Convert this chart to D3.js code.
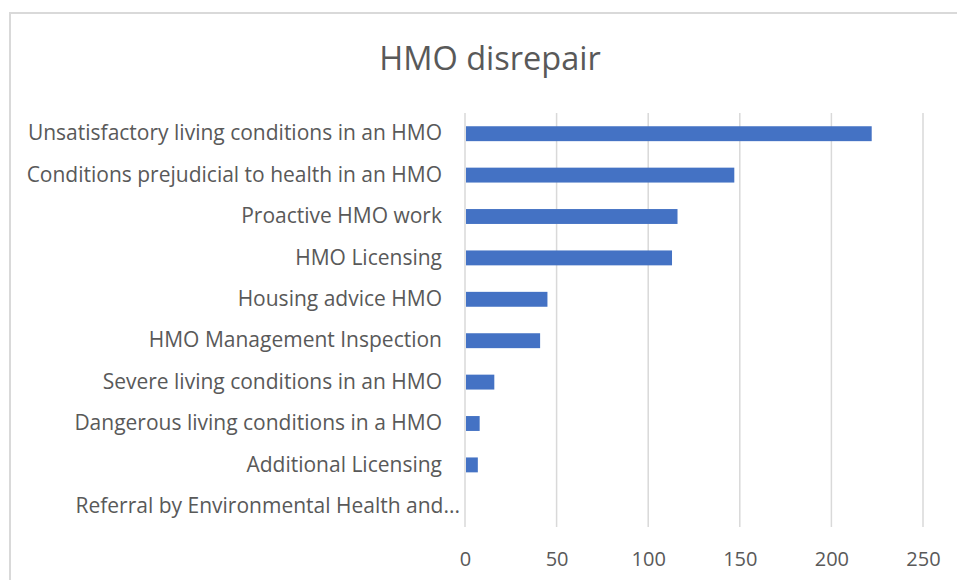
<!DOCTYPE html>
<html>
<head>
<meta charset="utf-8">
<script src="https://cdn.jsdelivr.net/npm/d3@7"></script>
<style>
  body { margin: 0; background: #fff; }
  svg { display: block; font-family: "Open Sans", sans-serif; }
</style>
</head>
<body>
<div id="chart"></div>
<script>
/**
 * DATA
 * */
const categories = [
  "Unsatisfactory living conditions in an HMO",
  "Conditions prejudicial to health in an HMO",
  "Proactive HMO work",
  "HMO Licensing",
  "Housing advice HMO",
  "HMO Management Inspection",
  "Severe living conditions in an HMO",
  "Dangerous living conditions in a HMO",
  "Additional Licensing",
  "Referral by Environmental Health and..."
];
const values = [222, 147, 116, 113, 45, 41, 16, 8, 7, 0];
const xTicks = [0, 50, 100, 150, 200, 250];
const title = "HMO disrepair";

/**
 * CONSTANTS
 * */
const width = 957,
  height = 580,
  margin = { top: 113, bottom: 53, left: 465, right: 34 };

const data = categories.map((c, i) => ({ name: c, value: values[i] }));

const svg = d3.select("#chart")
  .append("svg")
  .attr("width", width)
  .attr("height", height);

// chart area border (runs off the right/bottom edge like the screenshot)
svg.append("rect")
  .attr("x", 10)
  .attr("y", 13)
  .attr("width", 980)
  .attr("height", 600)
  .attr("fill", "#fff")
  .attr("stroke", "#d9d9d9")
  .attr("stroke-width", 2);

// SCALES
const xScale = d3.scaleLinear()
  .domain([0, 250])
  .range([margin.left, width - margin.right]);

const yScale = d3.scaleBand()
  .domain(categories)
  .range([margin.top, height - margin.bottom])
  .paddingInner(0.64)
  .paddingOuter(0.32);

// gridlines
svg.append("g")
  .attr("class", "grid")
  .selectAll("line")
  .data(xTicks)
  .join("line")
  .attr("x1", d => xScale(d))
  .attr("x2", d => xScale(d))
  .attr("y1", margin.top)
  .attr("y2", height - margin.bottom)
  .attr("stroke", "#d9d9d9")
  .attr("stroke-width", 1.5);

// bars
svg.append("g")
  .selectAll("rect")
  .data(data)
  .join("rect")
  .attr("x", xScale(0) + 1)
  .attr("y", d => yScale(d.name))
  .attr("width", d => Math.max(0, xScale(d.value) - xScale(0) - 1))
  .attr("height", yScale.bandwidth())
  .attr("fill", "#4472c4");

// AXES
const xAxis = d3.axisBottom(xScale)
  .tickValues(xTicks)
  .tickSize(0)
  .tickPadding(0);

svg.append("g")
  .attr("class", "axis x-axis")
  .attr("transform", `translate(0,${height - 14})`)
  .call(xAxis)
  .call(g => g.select(".domain").remove())
  .selectAll("text")
  .attr("dy", 0)
  .attr("fill", "#595959")
  .attr("font-size", 20)
  .attr("font-family", "Open Sans, sans-serif");

const yAxis = d3.axisLeft(yScale)
  .tickSize(0)
  .tickPadding(23);

svg.append("g")
  .attr("class", "axis y-axis")
  .attr("transform", `translate(${margin.left},0)`)
  .call(yAxis)
  .call(g => g.select(".domain").remove())
  .selectAll("text")
  .attr("fill", "#595959")
  .attr("font-size", 21)
  .attr("font-family", "Open Sans, sans-serif")
  // the truncated label runs a little further right, as Excel draws it
  .attr("dx", d => d.endsWith("...") ? 18 : 0);

// title
svg.append("text")
  .attr("x", 490)
  .attr("y", 70)
  .attr("text-anchor", "middle")
  .attr("fill", "#595959")
  .attr("font-size", 32.5)
  .text(title);
</script>
</body>
</html>
